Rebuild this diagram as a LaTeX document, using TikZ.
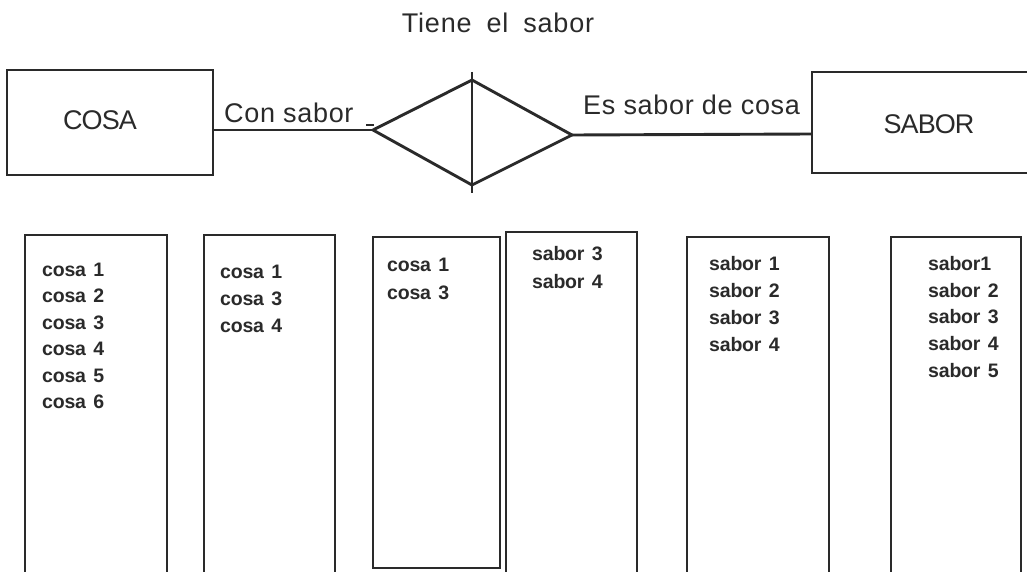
\documentclass[tikz,border=0pt]{standalone}
\usepackage{fontspec}
\setmainfont{Liberation Sans}
\newfontfamily\titlefont{Liberation Sans}[LetterSpace=3,WordSpace=1.8]
\newfontfamily\labfont{Liberation Sans}[LetterSpace=2.5]
\newfontfamily\entfont{Liberation Sans}[LetterSpace=-3.5]
\newfontfamily\listfont{Liberation Sans}[LetterSpace=-1,WordSpace=1.4]
\definecolor{ink}{HTML}{2A2A2A}
\tikzset{
  frame/.style={draw=ink, line width=2.9pt},
  conn/.style={draw=ink, line width=2.9pt},
  lbl/.style={text=ink, inner sep=0pt, anchor=base west, font=\labfont\fontsize{27}{30}\selectfont},
  ttl/.style={text=ink, inner sep=0pt, anchor=base, font=\titlefont\fontsize{27}{30}\selectfont},
  ent/.style={text=ink, inner sep=0pt, anchor=base, font=\entfont\fontsize{27}{30}\selectfont},
  item/.style={text=ink, inner sep=0pt, anchor=base west, font=\listfont\bfseries\fontsize{19.5}{22}\selectfont},
}
\begin{document}
\begin{tikzpicture}[x=1pt,y=-1pt]
\useasboundingbox (0,0) rectangle (1027,572);
\clip (0,0) rectangle (1027,572);
% title
\node[ttl] (title) at (498,33) {Tiene el sabor};
% entity COSA
\node[frame, minimum width=206pt, minimum height=105pt, inner sep=0pt] (cosa) at (110,122.5) {};
\node[ent] (cosat) at (100,130) {COSA};
% entity SABOR (cut off at right)
\coordinate (sabTL) at (812,72);
\coordinate (sabBL) at (812,173);
\draw[frame] (1040,72) -- (sabTL) -- (sabBL) -- (1040,173);
\coordinate (sabW) at (812,134);
\node[ent] (sabort) at (929,134) {SABOR};
% relationship diamond
\coordinate (dL) at (373,130);
\coordinate (dT) at (472,80);
\coordinate (dB) at (472,185);
\coordinate (dR) at (572,135);
\coordinate (vT) at (472,72);
\coordinate (vB) at (472,193);
\draw[conn, line join=miter] (dL) -- (dT) -- (dR) -- (dB) -- cycle;
\draw[conn] (vT) -- (vB);
\coordinate (tk1) at (366,125);
\coordinate (tk2) at (374,125);
\draw[conn, line width=2.2pt] (tk1) -- (tk2);
% connectors
\coordinate (cosaE) at (213,130);
\draw[conn] (cosaE) -- (dL);
\draw[conn] (dR) -- (sabW);
\node[lbl] (l1) at (224,123) {Con sabor};
\node[lbl] (l2) at (583,115) {Es sabor de cosa};
% table columns
\draw[frame] (25,580) -- (25,235) -- (167,235) -- (167,580);
\draw[frame] (204,580) -- (204,235) -- (335,235) -- (335,580);
\draw[frame] (373,568) -- (373,237) -- (500,237) -- (500,568) -- cycle;
\draw[frame] (506,580) -- (506,232) -- (637,232) -- (637,580);
\draw[frame] (687,580) -- (687,237) -- (829,237) -- (829,580);
\draw[frame] (891,580) -- (891,237) -- (1021,237) -- (1021,580);
% column 1
\node[item] (a1) at (42,276) {cosa 1};
\node[item] (a2) at (42,302.5) {cosa 2};
\node[item] (a3) at (42,329) {cosa 3};
\node[item] (a4) at (42,355.5) {cosa 4};
\node[item] (a5) at (42,382) {cosa 5};
\node[item] (a6) at (42,408.5) {cosa 6};
% column 2
\node[item] (b1) at (220,278) {cosa 1};
\node[item] (b2) at (220,305) {cosa 3};
\node[item] (b3) at (220,332) {cosa 4};
% column 3
\node[item] (c1) at (387,271) {cosa 1};
\node[item] (c2) at (387,299) {cosa 3};
% column 4
\node[item] (d1) at (532,260) {sabor 3};
\node[item] (d2) at (532,288) {sabor 4};
% column 5
\node[item] (e1) at (709,270) {sabor 1};
\node[item] (e2) at (709,297) {sabor 2};
\node[item] (e3) at (709,324) {sabor 3};
\node[item] (e4) at (709,351) {sabor 4};
% column 6
\node[item] (f1) at (928,270) {sabor1};
\node[item] (f2) at (928,297) {sabor 2};
\node[item] (f3) at (928,323) {sabor 3};
\node[item] (f4) at (928,350) {sabor 4};
\node[item] (f5) at (928,377) {sabor 5};
\end{tikzpicture}
\end{document}
